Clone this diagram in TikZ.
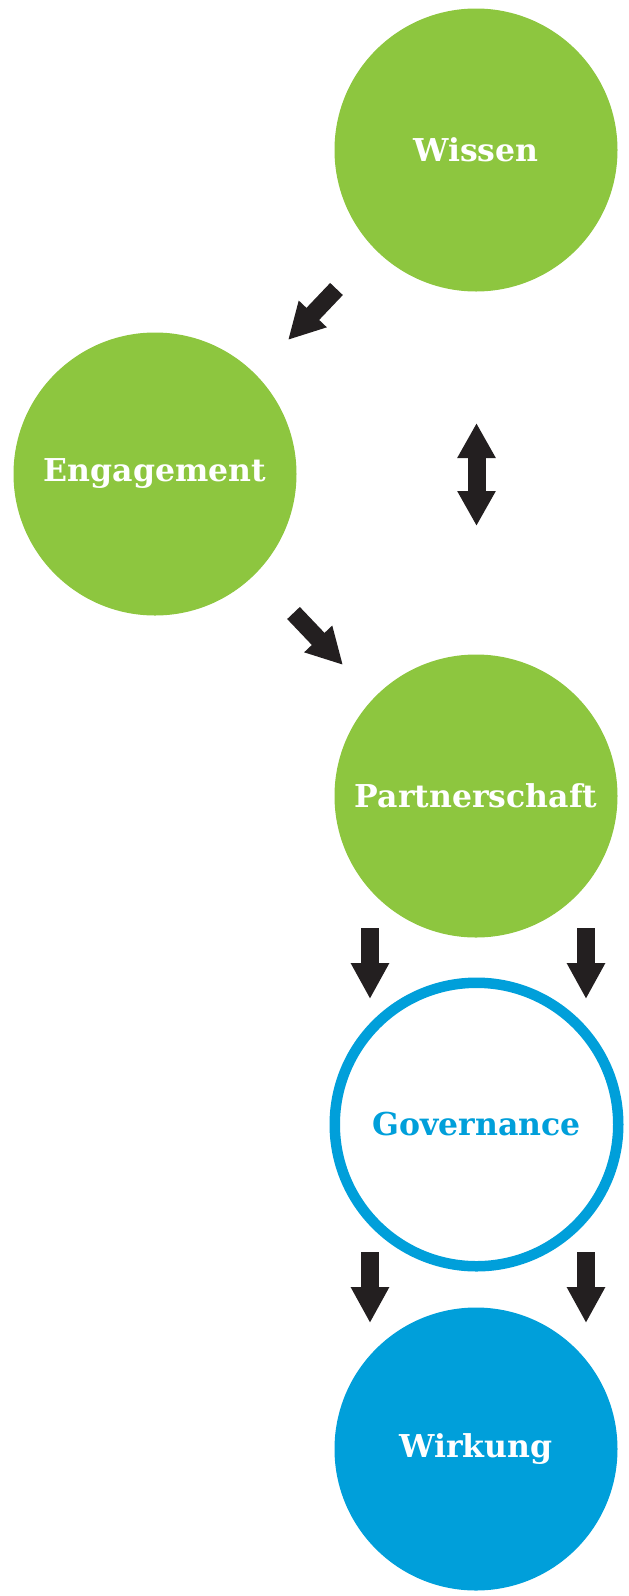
\documentclass[tikz,border=0pt]{standalone}
\usepackage{fontspec}
\setmainfont{DejaVu Serif}
\usetikzlibrary{arrows.meta}
\definecolor{lgreen}{HTML}{8DC63F}
\definecolor{lblue}{HTML}{009FDA}
\definecolor{adark}{HTML}{231F20}
\begin{document}
\begin{tikzpicture}[x=1pt,y=-1pt,
  bubble/.style={circle, minimum size=283pt, inner sep=0pt, fill=lgreen, text=white,
    font=\bfseries\fontsize{31.5}{36}\selectfont},
  ring/.style={circle, minimum size=283.5pt, inner sep=0pt, draw=lblue, line width=10.5pt,
    fill=white, text=lblue, font=\bfseries\fontsize{31.5}{36}\selectfont},
  blockarrow/.style={draw=adark, line width=17.5pt, -{Triangle[length=36pt,width=36pt]}},
  dblarrow/.style={draw=adark, line width=18pt, {Triangle[length=35pt,width=36pt]}-{Triangle[length=35pt,width=36pt]}}]
\useasboundingbox (0,0) rectangle (629,1596);
\node[bubble] (wissen) at (476,150) {Wissen};
\node[bubble] (engagement) at (155,474) {Engagement};
\node[bubble] (partner) at (476,796) {Partnerschaft};
\node[ring] (gov) at (476.5,1124.5) {Governance};
\node[bubble, fill=lblue] (wirkung) at (476,1449) {Wirkung};
\coordinate (a1s) at (336.5,289); \coordinate (a1e) at (288,340);
\coordinate (a2s) at (293.5,613); \coordinate (a2e) at (343,665);
\coordinate (d1) at (476.5,423); \coordinate (d2) at (476.5,526);
\coordinate (b1s) at (370,928); \coordinate (b1e) at (370,999);
\coordinate (b2s) at (586,928); \coordinate (b2e) at (586,999);
\coordinate (c1s) at (370,1252); \coordinate (c1e) at (370,1323);
\coordinate (c2s) at (586,1252); \coordinate (c2e) at (586,1323);
\draw[blockarrow] (a1s) -- (a1e);
\draw[blockarrow] (a2s) -- (a2e);
\draw[dblarrow] (d1) -- (d2);
\draw[blockarrow] (b1s) -- (b1e);
\draw[blockarrow] (b2s) -- (b2e);
\draw[blockarrow] (c1s) -- (c1e);
\draw[blockarrow] (c2s) -- (c2e);
\end{tikzpicture}
\end{document}
